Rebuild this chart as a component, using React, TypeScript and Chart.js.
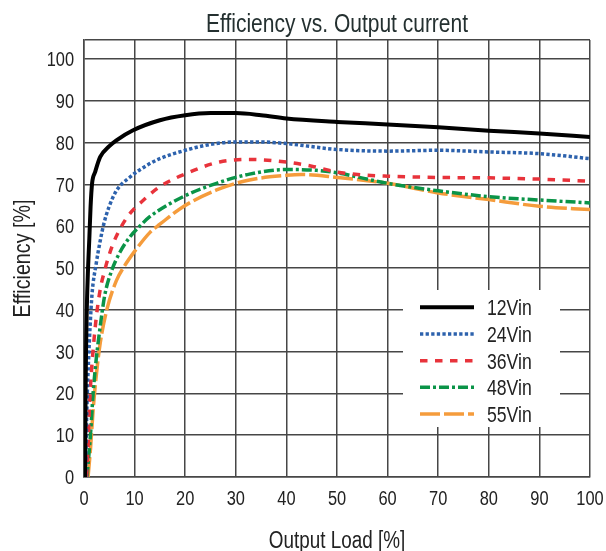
import React, { useEffect, useRef } from 'react';
import { Chart, registerables } from 'chart.js';

Chart.register(...registerables);

const FONT = '"Liberation Sans", Arial, "DejaVu Sans", sans-serif';
const CONDENSE = 0.82;

const TITLE = 'Efficiency vs. Output current';
const X_TITLE = 'Output Load [%]';
const Y_TITLE = 'Efficiency [%]';

const SERIES_LABELS = ['12Vin', '24Vin', '36Vin', '48Vin', '55Vin'];

const load12 = [0.2, 0.35, 0.55, 0.8, 1.05, 1.3, 1.6, 2.2, 3.2, 5, 6.4, 9.7, 15, 20, 25, 30, 35, 40, 50, 60, 70, 80, 90, 100];
const eff12 = [0, 25, 40, 50, 57, 64.7, 70.3, 73, 76.6, 79.2, 80.6, 83, 85.4, 86.6, 87.1, 87.1, 86.6, 85.8, 85, 84.4, 83.7, 82.9, 82.2, 81.4];

const load24 = [0.3, 0.45, 0.65, 0.9, 1.2, 1.6, 2.4, 3.2, 3.9, 4.9, 6.4, 9.1, 12.7, 15, 20, 25, 30, 35, 40, 50, 60, 70, 80, 90, 100];
const eff24 = [0, 10, 20, 28, 36, 44, 51, 56.5, 60.5, 64.5, 68.5, 71.8, 74.8, 76.2, 78.2, 79.6, 80.2, 80.2, 79.8, 78.4, 78, 78.2, 77.8, 77.4, 76.2];

const load36 = [0.5, 0.8, 1.05, 1.4, 1.8, 2.5, 3.3, 4.1, 4.8, 5.8, 7.4, 9.1, 11.4, 15, 20.3, 26.8, 33, 40, 45, 50, 55, 60, 70, 80, 90, 100];
const eff36 = [0, 7, 16, 24, 30.4, 39, 45.5, 49.5, 52.5, 56, 60, 63.1, 65.9, 69.5, 72.7, 75.4, 76, 75.4, 74.4, 73, 72.3, 72, 71.7, 71.6, 71.3, 70.8];

const load48 = [0.6, 1.3, 1.8, 2.4, 3.2, 4.1, 5.5, 7.1, 9.1, 11, 13, 19.6, 26.2, 32.7, 40, 46, 50, 60, 70, 80, 90, 100];
const eff48 = [0, 10.5, 20, 28, 36, 43.5, 49.5, 53.8, 57.5, 60, 62.3, 67.1, 70.3, 72.5, 73.6, 73.4, 72.8, 70.3, 68.5, 67.1, 66.3, 65.6];

const load55 = [0.8, 1.3, 1.8, 2.4, 3.2, 4.5, 6.4, 8, 10, 13, 15, 19.6, 26.2, 32.7, 40, 43, 50, 60, 70, 80, 90, 100];
const eff55 = [0, 7, 16, 24, 32, 40, 47, 50.5, 54, 58.5, 60.5, 64.7, 68.7, 71.1, 72.2, 72.4, 71.7, 70.3, 68, 66.4, 64.8, 64];

const SERIES_LOADS = [load12, load24, load36, load48, load55];
const SERIES_EFFS = [eff12, eff24, eff36, eff48, eff55];
const SERIES_COLORS = ['#000000', '#2d62ad', '#e8333b', '#0a9448', '#f59c3c'];
const SERIES_WIDTHS = [4, 3.5, 3.5, 3.5, 3.5];
const SERIES_DASHES: number[][] = [[], [3.3, 2.3], [7.5, 7.5], [10, 3, 3, 3], [20, 4]];

const Y_TICKS = [0, 10, 20, 30, 40, 50, 60, 70, 80, 90, 100];
const Y_MAX = 104.6;
const X_MIN = 0;
const X_MAX = 100;
const X_STEP = 10;

function drawText(
  ctx: CanvasRenderingContext2D,
  text: string,
  x: number,
  y: number,
  size: number,
  align: CanvasTextAlign,
  color: string,
  rotate = 0
) {
  ctx.save();
  ctx.translate(x, y);
  if (rotate) ctx.rotate(rotate);
  ctx.scale(CONDENSE, 1);
  ctx.font = `${size}px ${FONT}`;
  ctx.fillStyle = color;
  ctx.textAlign = align;
  ctx.textBaseline = 'alphabetic';
  ctx.fillText(text, 0, 0);
  ctx.restore();
}

const textPlugin = {
  id: 'condensedText',
  afterDraw(chart: any) {
    const { ctx, chartArea, scales } = chart;
    const cx = (chartArea.left + chartArea.right) / 2;
    const cy = (chartArea.top + chartArea.bottom) / 2;
    drawText(ctx, TITLE, cx, 32, 25.6, 'center', '#243030');
    scales.x.ticks.forEach((t: any) => {
      const px = scales.x.getPixelForValue(t.value);
      drawText(ctx, String(t.value), px, chartArea.bottom + 28, 20, 'center', '#222222');
    });
    scales.y.ticks.forEach((t: any) => {
      if (t.value > 100) return;
      const py = scales.y.getPixelForValue(t.value);
      drawText(ctx, String(t.value), chartArea.left - 10, py + 7, 20, 'right', '#222222');
    });
    drawText(ctx, X_TITLE, cx, 547.5, 23, 'center', '#222222');
    drawText(ctx, Y_TITLE, 30, cy, 24, 'center', '#222222', -Math.PI / 2);
  },
};

const legendPlugin = {
  id: 'boxLegend',
  afterDraw(chart: any) {
    const { ctx, chartArea } = chart;
    const x0 = chartArea.left + 319;
    const y0 = chartArea.top + 250;
    ctx.save();
    ctx.fillStyle = '#ffffff';
    ctx.fillRect(x0, y0, 157, 137);
    chart.data.datasets.forEach((ds: any, i: number) => {
      const y = y0 + 17.3 + i * 26.67;
      ctx.beginPath();
      ctx.strokeStyle = ds.borderColor;
      ctx.lineWidth = ds.borderWidth;
      ctx.setLineDash(ds.borderDash || []);
      ctx.moveTo(x0 + 17, y);
      ctx.lineTo(x0 + 71, y);
      ctx.stroke();
      ctx.setLineDash([]);
    });
    ctx.restore();
    chart.data.datasets.forEach((ds: any, i: number) => {
      const y = y0 + 17.3 + i * 26.67;
      drawText(ctx, ds.label, x0 + 84, y + 8, 21.5, 'left', '#222222');
    });
  },
};

export default function App() {
  const ref = useRef<HTMLCanvasElement | null>(null);
  useEffect(() => {
    if (!ref.current) return;
    const datasets = SERIES_LABELS.map((label, i) => ({
      label,
      data: SERIES_LOADS[i].map((x, j) => ({ x, y: SERIES_EFFS[i][j] })),
      borderColor: SERIES_COLORS[i],
      backgroundColor: SERIES_COLORS[i],
      borderWidth: SERIES_WIDTHS[i],
      borderDash: SERIES_DASHES[i],
      pointRadius: 0,
      fill: false,
      cubicInterpolationMode: 'monotone' as const,
      borderCapStyle: 'butt' as const,
    }));
    const gridColor = '#474747';
    const chart = new Chart(ref.current, {
      type: 'line',
      data: { datasets },
      options: {
        animation: false,
        responsive: false,
        layout: { padding: { left: 0, right: 16, top: 40, bottom: 0 } },
        plugins: {
          legend: { display: false },
          tooltip: { enabled: false },
          title: { display: false },
        },
        scales: {
          x: {
            type: 'linear',
            min: X_MIN,
            max: X_MAX,
            ticks: { stepSize: X_STEP, display: false },
            grid: { color: gridColor, lineWidth: 1.5, drawTicks: false },
            border: { display: true, color: gridColor, width: 1.5 },
            title: { display: false },
            afterFit: (scale: any) => {
              scale.height = 74;
            },
          },
          y: {
            type: 'linear',
            min: 0,
            max: Y_MAX,
            afterBuildTicks: (scale: any) => {
              scale.ticks = [...Y_TICKS.map((v) => ({ value: v })), { value: Y_MAX }];
            },
            ticks: { display: false },
            grid: { color: gridColor, lineWidth: 1.5, drawTicks: false },
            border: { display: true, color: gridColor, width: 1.5 },
            title: { display: false },
            afterFit: (scale: any) => {
              scale.width = 84;
            },
          },
        },
      },
      plugins: [textPlugin, legendPlugin],
    });
    return () => chart.destroy();
  }, []);
  return (
    <div style={{ position: 'absolute', left: 0, top: 0, width: 606, height: 551, background: '#fff' }}>
      <canvas ref={ref} width={606} height={551} style={{ display: 'block' }} />
    </div>
  );
}
